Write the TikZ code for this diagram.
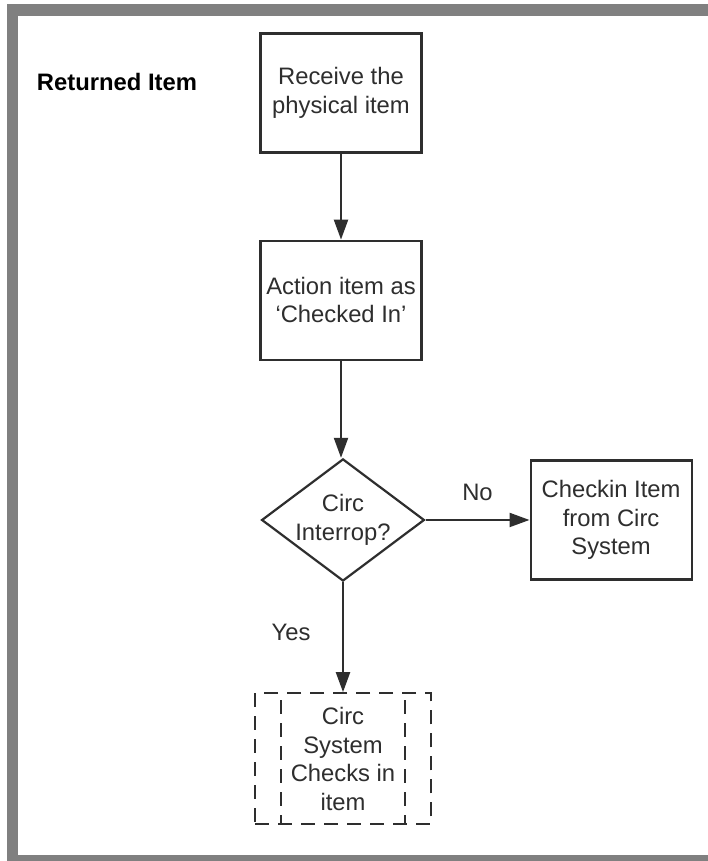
\documentclass[tikz,border=0pt]{standalone}
\usepackage{fontspec}
\setmainfont{Liberation Sans}
\usepackage{xcolor}
\usepackage{tikz}
\usetikzlibrary{%
    arrows.meta,
    positioning,
    calc,
    shapes.geometric
}

\definecolor{framegray}{HTML}{808080}
\definecolor{inkgray}{HTML}{2E2E2E}

\tikzset{
  txt/.style = {font=\fontsize{23.8}{28.5}\selectfont, text=inkgray},
  procbox/.style = {txt, rectangle, draw=inkgray, line width=2.2pt,
    minimum width=161pt, minimum height=119pt, inner sep=0pt, align=center},
  decision/.style = {txt, diamond, draw=inkgray, line width=2.2pt,
    aspect=1.333, minimum width=158pt, minimum height=118pt, inner sep=0pt,
    align=center},
  extproc/.style = {procbox, minimum width=176pt, minimum height=131pt,
    dash pattern=on 14pt off 9pt},
  flow/.style = {-{Triangle[length=20pt,width=14pt]}, line width=2.2pt,
    draw=inkgray}
}

\begin{document}
\begin{tikzpicture}[x=1pt, y=-1pt]
  \def\inset{27pt}

  \useasboundingbox (0,0) rectangle (708,861);

  % frame
  \fill[framegray] (7,4) rectangle (708,861);
  \fill[white] (18,16) rectangle (708,855);

  \node[txt, font=\fontsize{23.8}{28}\selectfont\bfseries, text=black]
    (title) at (117,82) {Returned Item};

  \node[procbox] (receive) at (341,93) {Receive the\\physical item};

  \node[procbox, below=86pt of receive] (action)
    {Action item as\\`Checked In'};

  \node[decision, below=97pt of action.south, anchor=north,
        xshift=2pt] (interrop) {Circ\\Interrop?};

  \node[procbox, right=104pt of interrop] (checkin)
    {Checkin Item\\from Circ\\System};

  \node[extproc, below=110pt of interrop] (circsys)
    {Circ\\System\\Checks in\\item};

  % inner bars of the dashed box
  \draw[draw=inkgray, line width=2.2pt, dash pattern=on 14pt off 9pt]
    ($(circsys.north west)+(\inset,8)$) -- ($(circsys.south west)+(\inset,0)$)
    ($(circsys.north east)+(-\inset,8)$) -- ($(circsys.south east)+(-\inset,0)$);

  \draw[flow] (receive) -- (action);
  \draw[flow] (action.south) -- (action.south |- interrop.north);
  \draw[flow] (interrop) -- node[txt, above=15pt] (no) {No} (checkin);
  \draw[flow] (interrop) -- node[txt, left=28pt, pos=0.46] (yes) {Yes}
    (circsys);
\end{tikzpicture}
\end{document}
